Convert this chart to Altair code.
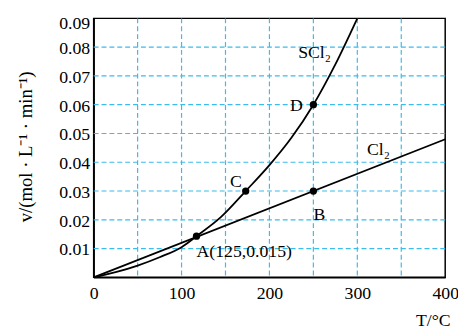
import altair as alt
import pandas as pd

# SCl2 curve
T_scl2 = [0, 25, 50, 75, 100, 117, 145, 173, 200, 225, 250, 275, 300]
v_scl2 = [0, 0.0018, 0.0041, 0.0070, 0.0105, 0.0143, 0.021, 0.030, 0.039, 0.0485, 0.060, 0.074, 0.090]
# Cl2 line
T_cl2 = [0, 400]
v_cl2 = [0, 0.048]
# marked points
pt_name = ["A", "B", "C", "D"]
pt_T = [117, 250, 173, 250]
pt_v = [0.0143, 0.030, 0.030, 0.060]
# gridlines
x_grid = [50, 100, 150, 200, 250, 300, 350]
y_grid = [0.01, 0.02, 0.03, 0.04, 0.05, 0.06, 0.07, 0.08]
x_ticks = [0, 100, 200, 300, 400]
y_ticks = [0.01, 0.02, 0.03, 0.04, 0.05, 0.06, 0.07, 0.08, 0.09]
# annotation labels
lab_text = ["SCl₂", "D", "C", "B", "Cl₂", "A(125,0.015)"]
lab_T = [270, 238, 168.5, 257, 311, 117]
lab_v = [0.078, 0.0594, 0.033, 0.0218, 0.0444, 0.0089]
lab_align = ["right", "right", "right", "center", "left", "left"]

FONT = "Liberation Serif"
GRID = "#3bbcec"

xs = alt.Scale(domain=[0, 400], nice=False, zero=False)
ys = alt.Scale(domain=[0, 0.09], nice=False, zero=False)

df_s = pd.DataFrame({"T": T_scl2, "v": v_scl2})
df_c = pd.DataFrame({"T": T_cl2, "v": v_cl2})
df_p = pd.DataFrame({"name": pt_name, "T": pt_T, "v": pt_v})
df_xg = pd.DataFrame({"T": x_grid})
df_yg = pd.DataFrame({"v": y_grid})
df_l = pd.DataFrame({"text": lab_text, "T": lab_T, "v": lab_v, "align": lab_align})

xaxis = alt.Axis(values=x_ticks, title="T/°C", labelPadding=7, labelFont=FONT, titleFont=FONT,
                 titleX=362, titleY=49, titleAlign="right", titleBaseline="alphabetic")
yaxis = alt.Axis(values=y_ticks, format=".2f", labelPadding=4, labelOverlap=False,
                 labelFont=FONT, titleFont=FONT, titleFontSize=19,
                 labelOffset={"condition": {"test": "datum.value > 0.085", "value": 5}, "value": 1.5},
                 title="v/(mol · L⁻¹ · min⁻¹)",
                 titleX=-69, titleY=130, titleAngle=270, titleAlign="center",
                 titleBaseline="middle")

X = alt.X("T:Q", scale=xs, axis=xaxis)
Y = alt.Y("v:Q", scale=ys, axis=yaxis)

xgrid = alt.Chart(df_xg).mark_rule(color=GRID, strokeDash=[5, 3], strokeWidth=1.2).encode(x=X)
ygrid = alt.Chart(df_yg).mark_rule(color=GRID, strokeDash=[5, 3], strokeWidth=1.2).encode(y=Y)

curve = alt.Chart(df_s).mark_line(color="black", strokeWidth=1.8, interpolate="monotone").encode(x=X, y=Y)
line = alt.Chart(df_c).mark_line(color="black", strokeWidth=1.8).encode(x=X, y=Y)
pts = alt.Chart(df_p).mark_circle(color="black", opacity=1, size=55).encode(x=X, y=Y)

def labels(al):
    return alt.Chart(df_l[df_l["align"] == al]).mark_text(
        font=FONT, fontSize=18, color="black", align=al, baseline="middle").encode(
        x=X, y=Y, text="text:N")

chart = alt.layer(xgrid, ygrid, curve, line, pts, labels("right"), labels("center"), labels("left")).properties(
    width=357, height=263, background="white",
    autosize=alt.AutoSizeParams(type="none"),
    padding={"left": 87, "top": 8, "right": 13, "bottom": 56},
).configure(font=FONT).configure_view(stroke="black", strokeWidth=1.5).configure_axis(
    grid=False, ticks=False, labelFontSize=18, labelFont=FONT, labelColor="black",
    domainColor="black", domainWidth=1.5, titleFont=FONT, titleFontSize=18,
    titleFontWeight="normal", titleColor="black", labelFlush=False
)

chart.save("out.html", embed_options={"renderer": "svg", "actions": False})
